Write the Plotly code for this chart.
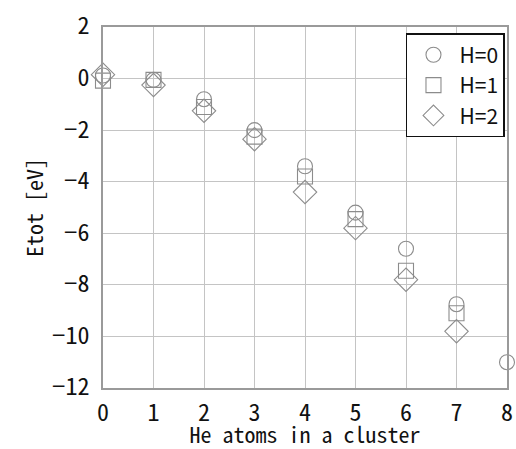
import plotly.graph_objects as go

x_h0 = [0, 1, 2, 3, 4, 5, 6, 7, 8]
y_h0 = [0.12, -0.05, -0.8, -2.0, -3.4, -5.2, -6.6, -8.75, -11.0]
x_h1 = [0, 1, 2, 3, 4, 5, 6, 7]
y_h1 = [-0.08, -0.05, -1.1, -2.25, -3.8, -5.45, -7.45, -9.1]
x_h2 = [0, 1, 2, 3, 4, 5, 6, 7]
y_h2 = [0.15, -0.25, -1.25, -2.35, -4.4, -5.8, -7.8, -9.8]

x_ticks = list(range(0, 9))
y_ticks = list(range(-12, 3, 2))
y_labels = ["\u221212", "\u221210", "\u22128", "\u22126", "\u22124", "\u22122", "0", "2"]

font = "Noto Sans Mono CJK JP, Liberation Mono, monospace"
legend_font = "Noto Sans CJK JP, Liberation Sans, sans-serif"
mcol = "#8c8c8c"

fig = go.Figure()
for xs, ys, name, sym, sz in [(x_h0, y_h0, "H=0", "circle-open", 15),
                              (x_h1, y_h1, "H=1", "square-open", 15),
                              (x_h2, y_h2, "H=2", "diamond-open", 18)]:
    fig.add_trace(go.Scatter(
        x=xs, y=ys, mode="markers", name=name, cliponaxis=False,
        marker=dict(symbol=sym, size=sz, color=mcol,
                    line=dict(width=1.1, color=mcol)),
    ))

fig.update_layout(
    width=516, height=449,
    margin=dict(l=103, r=9, t=27, b=61, autoexpand=False),
    paper_bgcolor="white", plot_bgcolor="white",
    font=dict(family=font, size=18, color="#111111"),
    showlegend=True,
    legend=dict(x=0.995, y=0.983, xanchor="right", yanchor="top",
                bordercolor="#111111", borderwidth=1.5, bgcolor="white",
                font=dict(size=21, family=legend_font), itemsizing="trace",
                itemwidth=42, tracegroupgap=0),
)
fig.update_xaxes(range=[0, 8], tickvals=x_ticks, showgrid=True,
                 gridcolor="#c4c4c4", gridwidth=1, showline=True,
                 linecolor="#9a9a9a", linewidth=1.5, mirror=True,
                 zeroline=False, ticks="", ticklabelstandoff=2,
                 automargin=False,
                 title=dict(text="He atoms in a cluster", standoff=3,
                            font=dict(size=22)),
                 tickfont=dict(size=24))
fig.update_yaxes(range=[-12, 2], tickvals=y_ticks, ticktext=y_labels,
                 showgrid=True, gridcolor="#c4c4c4", gridwidth=1,
                 showline=True, linecolor="#9a9a9a", linewidth=1.5,
                 mirror=True, zeroline=False, ticks="",
                 ticklabelstandoff=7, ticklabelshift=-1, automargin=False,
                 title=dict(text="Etot [eV]", standoff=2, font=dict(size=22)),
                 tickfont=dict(size=24))

fig.write_html("out.html",
               config={"displayModeBar": False},
               post_script="document.body.style.margin='0';"
                           "document.body.style.overflow='hidden';")
